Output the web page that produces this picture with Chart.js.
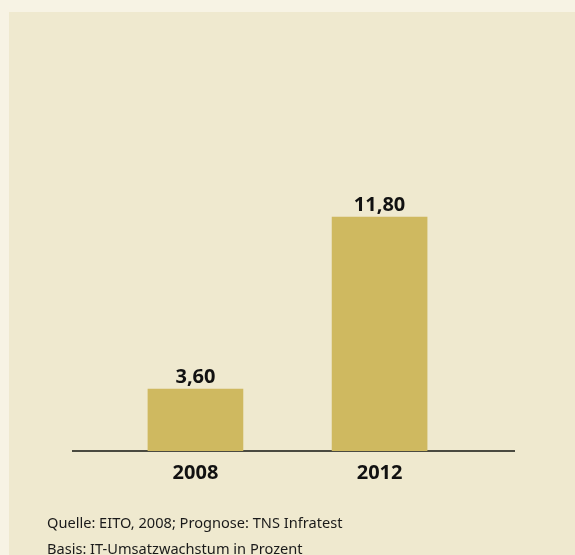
<!DOCTYPE html>
<html>
<head>
<meta charset="utf-8">
<script src="https://cdn.jsdelivr.net/npm/chart.js@4/dist/chart.umd.min.js"></script>
<style>
  html, body { margin: 0; padding: 0; }
  body { width: 575px; height: 555px; background: #f7f3e4; position: relative; overflow: hidden; font-family: "Noto Sans", sans-serif; }
  #panel { position: absolute; left: 9px; top: 12px; right: 0; bottom: 0; background: #efe9cf; }
  #wrap { position: absolute; left: 0; top: 0; width: 575px; height: 555px; }
  .note { position: absolute; left: 47px; font-size: 14.6px; color: #1a1a1a; white-space: nowrap; }
</style>
</head>
<body>
<div id="panel"></div>
<div id="wrap"><canvas id="chart" width="575" height="555"></canvas></div>
<div class="note" style="top: 512px;">Quelle: EITO, 2008; Prognose: TNS Infratest</div>
<div class="note" style="top: 538px;">Basis: IT-Umsatzwachstum in Prozent</div>
<script>
// Werte aus der Grafik
const years = [2008, 2012];
const growth = [3.6, 11.8];
const valueLabels = ['3,60', '11,80'];

const barColor = '#cfb960';
const textColor = '#111111';

const valueLabelPlugin = {
    id: 'valueLabels',
    afterDatasetsDraw(chart) {
        const ctx = chart.ctx;
        const meta = chart.getDatasetMeta(0);
        ctx.save();
        ctx.font = 'bold 20px "Noto Sans"';
        ctx.fillStyle = textColor;
        ctx.textAlign = 'center';
        ctx.textBaseline = 'alphabetic';
        meta.data.forEach((bar, i) => {
            ctx.fillText(valueLabels[i], bar.x, bar.y - 6);
        });
        ctx.restore();
    }
};

new Chart(document.getElementById('chart'), {
    type: 'bar',
    data: {
        datasets: [{
            data: years.map((y, i) => ({ x: y, y: growth[i] })),
            backgroundColor: barColor,
            barThickness: 95,
        }]
    },
    options: {
        responsive: false,
        animation: false,
        layout: { padding: { top: 45, left: 73, right: 61, bottom: 60 } },
        plugins: { legend: { display: false }, tooltip: { enabled: false } },
        scales: {
            x: {
                type: 'linear',
                offset: false,
                min: 2005.34,
                max: 2014.92,
                afterBuildTicks: scale => { scale.ticks = years.map(v => ({ value: v })); },
                grid: { display: false, drawTicks: false },
                border: { display: true, color: '#4a4a40', width: 2 },
                ticks: {
                    callback: v => String(v),
                    color: textColor,
                    font: { family: '"Noto Sans"', size: 20, weight: 'bold' },
                    padding: 10,
                    autoSkip: false,
                    maxRotation: 0,
                }
            },
            y: {
                display: false,
                min: 0.65,
                max: 20,
            }
        }
    },
    plugins: [valueLabelPlugin]
});
</script>
</body>
</html>
